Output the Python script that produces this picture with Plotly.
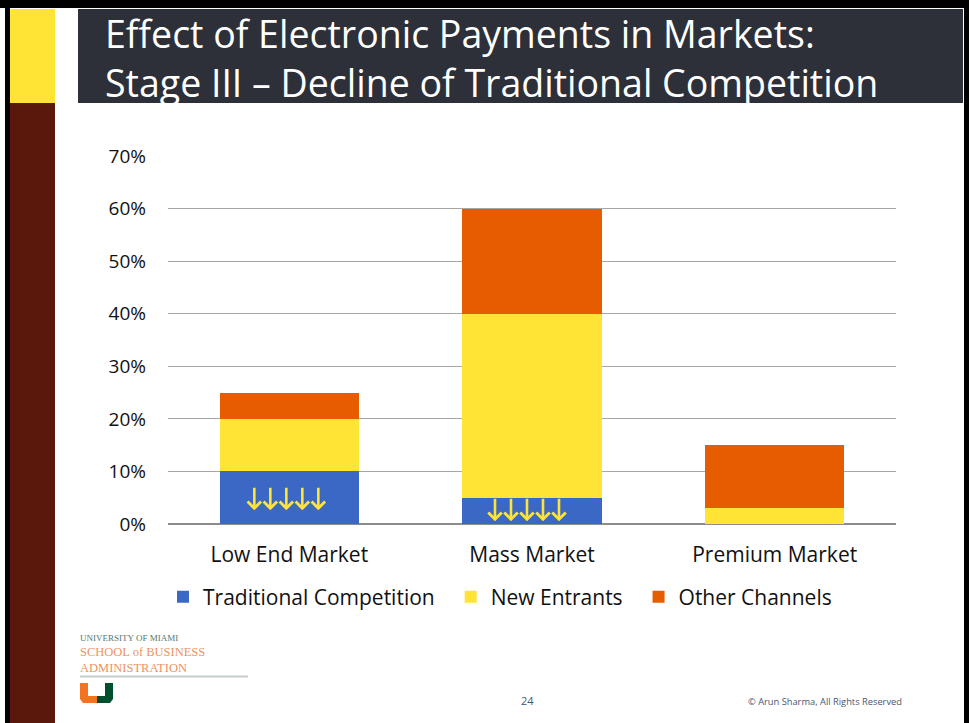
import plotly.graph_objects as go

W, H = 969, 723

categories = ["Low End Market", "Mass Market", "Premium Market"]
traditional = [0.10, 0.05, 0.0]
new_entrants = [0.10, 0.35, 0.03]
other_channels = [0.05, 0.20, 0.12]
tick_vals = [0, 0.1, 0.2, 0.3, 0.4, 0.5, 0.6, 0.7]

series_names = ["Traditional Competition", "New Entrants", "Other Channels"]
series_colors = ["#3a68c4", "#ffe335", "#e65c00"]

FONT = "Open Sans"


def px(x):
    return x / W


def py(y):
    return 1 - y / H


fig = go.Figure()
n_series = len(series_names)
for i, (name, vals, col) in enumerate(zip(series_names, [traditional, new_entrants, other_channels], series_colors)):
    # trailing non-breaking spaces widen the gap between legend entries
    label = name + ("\u00a0\u00a0" if i < n_series - 1 else "")
    fig.add_trace(go.Bar(
        x=categories, y=vals, name=label,
        marker=dict(color=col, line=dict(width=0)),
        width=0.573,
    ))

shapes = []
# slide frame and decorations
shapes.append(dict(type="rect", xref="paper", yref="paper", x0=px(0), x1=px(969), y0=py(8), y1=py(0),
                   fillcolor="#000000", line=dict(width=0), layer="below"))
shapes.append(dict(type="rect", xref="paper", yref="paper", x0=px(5), x1=px(10), y0=py(723), y1=py(0),
                   fillcolor="#000000", line=dict(width=0), layer="below"))
shapes.append(dict(type="rect", xref="paper", yref="paper", x0=px(964), x1=px(969), y0=py(723), y1=py(0),
                   fillcolor="#000000", line=dict(width=0), layer="below"))
shapes.append(dict(type="rect", xref="paper", yref="paper", x0=px(10), x1=px(55), y0=py(103), y1=py(9),
                   fillcolor="#ffe335", line=dict(width=0), layer="below"))
shapes.append(dict(type="rect", xref="paper", yref="paper", x0=px(10), x1=px(55), y0=py(723), y1=py(103),
                   fillcolor="#5a170c", line=dict(width=0), layer="below"))
shapes.append(dict(type="rect", xref="paper", yref="paper", x0=px(78), x1=px(963), y0=py(103), y1=py(9),
                   fillcolor="#2d3039", line=dict(width=0), layer="below"))
# logo line
shapes.append(dict(type="rect", xref="paper", yref="paper", x0=px(80), x1=px(248), y0=py(677.5), y1=py(675.5),
                   fillcolor="#c5cccc", line=dict(width=0)))
# U logo
shapes.append(dict(type="path", xref="paper", yref="paper",
                   path=f"M {px(80)},{py(683)} L {px(88)},{py(683)} L {px(88)},{py(696)} L {px(97)},{py(696)} L {px(97)},{py(703)} L {px(83)},{py(703)} L {px(80)},{py(699)} Z",
                   fillcolor="#f47321", line=dict(width=0)))
shapes.append(dict(type="path", xref="paper", yref="paper",
                   path=f"M {px(97)},{py(696)} L {px(105)},{py(696)} L {px(105)},{py(683)} L {px(113)},{py(683)} L {px(113)},{py(699)} L {px(110)},{py(703)} L {px(97)},{py(703)} Z",
                   fillcolor="#005030", line=dict(width=0)))

annotations = []
annotations.append(dict(xref="paper", yref="paper", x=px(103), y=py(58), xanchor="left", yanchor="middle",
                        text="Effect of Electronic Payments in Markets:<br>Stage III \u2013 Decline of Traditional Competition",
                        showarrow=False, align="left",
                        font=dict(family=FONT, size=37.5, color="#ffffff")))
# logo text
annotations.append(dict(xref="paper", yref="paper", x=px(78), y=py(638), xanchor="left", yanchor="middle",
                        text="UNIVERSITY OF MIAMI", showarrow=False,
                        font=dict(family="Liberation Serif", size=9, color="#557870")))
annotations.append(dict(xref="paper", yref="paper", x=px(78), y=py(660), xanchor="left", yanchor="middle",
                        text="SCHOOL of BUSINESS<br>ADMINISTRATION", showarrow=False, align="left",
                        font=dict(family="Liberation Serif", size=12.5, color="#ec9462")))
# footer
annotations.append(dict(xref="paper", yref="paper", x=px(527), y=py(700), xanchor="center", yanchor="middle",
                        text="24", showarrow=False,
                        font=dict(family=FONT, size=11, color="#4a5570")))
annotations.append(dict(xref="paper", yref="paper", x=px(904), y=py(701), xanchor="right", yanchor="middle",
                        text="\u00a9 Arun Sharma, All Rights Reserved", showarrow=False,
                        font=dict(family=FONT, size=9.3, color="#4a5570")))

# decline arrows inside the Traditional Competition segments
arrow_offsets = [-32, -16, 0, 16, 32]
arrow_specs = [(categories[0], 0.026, -3, 24), (categories[1], 0.005, -5, 24)]
for cat, head, shift, length in arrow_specs:
    for off in arrow_offsets:
        annotations.append(dict(x=cat, y=head, xref="x", yref="y", xshift=off + shift,
                                ax=0, ay=-length, showarrow=True, text="",
                                arrowhead=4, arrowsize=1.0, arrowwidth=2.6, arrowcolor="#ffe335"))

y_top = 0.701
fig.update_layout(
    width=W, height=H,
    margin=dict(l=0, r=0, t=0, b=0, pad=0, autoexpand=False),
    paper_bgcolor="#ffffff", plot_bgcolor="#ffffff",
    barmode="stack", bargap=0.427,
    font=dict(family=FONT, size=19, color="#000000"),
    xaxis=dict(domain=[px(168), px(896)], showgrid=False, showline=False, zeroline=False,
               ticks="", tickfont=dict(size=21, family=FONT, color="#111111"), fixedrange=True,
               automargin=False, ticklabelstandoff=16),
    yaxis=dict(domain=[py(524), py(524 - 368 * y_top / 0.7)], range=[0, y_top], tickvals=tick_vals,
               tickformat=".0%", automargin=False,
               showgrid=True, gridcolor="#a6a6a6", gridwidth=1, zeroline=True, zerolinecolor="#8c8c8c",
               zerolinewidth=1.5, showline=False, ticks="", ticklabelstandoff=21,
               tickfont=dict(size=19, family=FONT, color="#111111")),
    legend=dict(orientation="h", x=px(500), y=py(597), xanchor="center", yanchor="middle",
                font=dict(size=21, family=FONT, color="#111111"), itemwidth=30, traceorder="normal",
                bgcolor="rgba(0,0,0,0)"),
    shapes=shapes, annotations=annotations,
    showlegend=True,
)

fig.write_html("out.html")
